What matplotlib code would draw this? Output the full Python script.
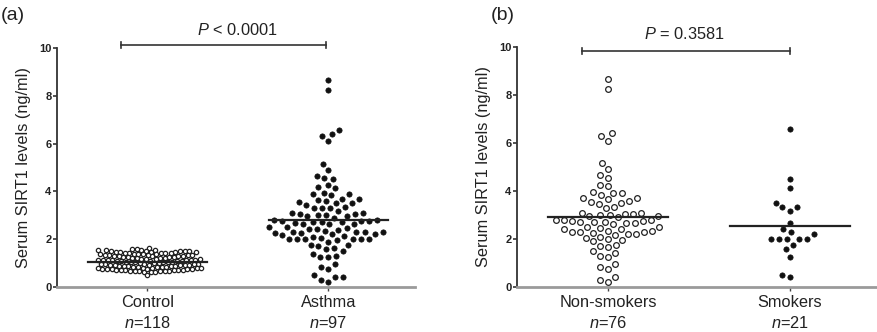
import numpy as np
import matplotlib
matplotlib.use("Agg")
import matplotlib.pyplot as plt

plt.rcParams['font.family'] = ['Liberation Sans', 'DejaVu Sans']
plt.rcParams['mathtext.fontset'] = 'custom'
plt.rcParams['mathtext.rm'] = 'Liberation Sans'
plt.rcParams['mathtext.it'] = 'Liberation Sans:italic'

# Values (ng/ml)
control = [1.65,
           1.40, 1.41, 1.43, 1.42, 1.44, 1.46, 1.45, 1.47, 1.48, 1.50, 1.49,
           1.51, 1.52, 1.53, 1.55, 1.54, 1.56, 1.57, 1.43, 1.47, 1.52, 1.58,
           1.21, 1.22, 1.24, 1.23, 1.26, 1.25, 1.28, 1.27, 1.30, 1.29, 1.32,
           1.31, 1.33, 1.35, 1.34, 1.36, 1.38, 1.37, 1.39, 1.22, 1.30, 1.35,
           1.01, 1.02, 1.04, 1.03, 1.05, 1.07, 1.06, 1.08, 1.10, 1.09, 1.11,
           1.12, 1.14, 1.13, 1.15, 1.17, 1.16, 1.18, 1.19, 1.03, 1.08, 1.12,
           1.05, 1.15,
           0.81, 0.80, 0.83, 0.82, 0.85, 0.84, 0.86, 0.88, 0.87, 0.89, 0.91,
           0.90, 0.92, 0.94, 0.93, 0.95, 0.97, 0.96, 0.98, 0.99, 0.85, 0.90,
           0.95, 0.88,
           0.61, 0.63, 0.65, 0.64, 0.67, 0.66, 0.69, 0.70, 0.72, 0.71, 0.73,
           0.75, 0.74, 0.76, 0.78, 0.77, 0.79, 0.70, 0.74, 0.67, 0.72, 0.78,
           0.68, 0.76,
           0.50]

non_smokers = [8.65, 8.25, 6.4, 6.3, 6.1, 5.15, 4.9, 4.65, 4.55, 4.25, 4.2,
               3.95, 3.9, 3.9, 3.85, 3.7, 3.7, 3.65, 3.6, 3.55, 3.5, 3.45,
               3.35, 3.3,
               3.1, 3.1, 3.05, 3.05, 3.0, 3.0, 2.95, 2.95, 2.9,
               2.8, 2.8, 2.78, 2.75, 2.75, 2.72, 2.7, 2.7, 2.68, 2.65, 2.62,
               2.5, 2.5, 2.45, 2.42, 2.4,
               2.35, 2.32, 2.3, 2.3, 2.28, 2.25, 2.22, 2.2, 2.15,
               2.1, 2.05, 2.0, 1.95, 1.9,
               1.75, 1.7, 1.65, 1.5, 1.4, 1.3, 1.25,
               0.95, 0.85, 0.75, 0.4, 0.3, 0.2]

smokers = [6.58, 4.5, 4.14, 3.51, 3.32, 3.32, 3.17, 2.65, 2.42, 2.3, 2.19,
           1.99, 1.99, 1.99, 2.0, 2.0, 1.75, 1.57, 1.26, 0.51, 0.43]

# asthma group = non-smokers + smokers (n = 97)
asthma = non_smokers + smokers

group_means = {'Control': 1.05, 'Asthma': 2.82,
               'Non-smokers': 2.9, 'Smokers': 2.54}


def swarm_offsets(ax, values, d_px):
    """simple beeswarm: x offsets (data units) so markers do not collide"""
    p0 = ax.transData.transform((0, 0))
    p1 = ax.transData.transform((1, 1))
    sx, sy = p1[0] - p0[0], p1[1] - p0[1]
    vals = np.asarray(values, dtype=float)
    offsets = np.zeros(len(vals))
    placed = []
    for i in np.argsort(vals, kind='stable'):
        y = vals[i] * sy
        near = [(px, py) for px, py in placed if abs(py - y) < d_px]
        cands = [0.0]
        for px, py in near:
            w = np.sqrt(d_px ** 2 - (py - y) ** 2)
            cands += [px - w, px + w]
        cands.sort(key=abs)
        for c in cands:
            if all((c - px) ** 2 + (y - py) ** 2 >= d_px ** 2 - 1e-6 for px, py in near):
                break
        placed.append((c, y))
        offsets[i] = c / sx
    return offsets


def setup_axes(ax, labels, counts):
    ax.set_xlim(-0.5, 1.48)
    ax.set_ylim(0, 10)
    for s in ['top', 'right']:
        ax.spines[s].set_visible(False)
    ax.spines['left'].set_color('#333333')
    ax.spines['left'].set_linewidth(1.3)
    ax.spines['bottom'].set_color('#9a9a9a')
    ax.spines['bottom'].set_linewidth(2)
    ax.set_yticks([0, 2, 4, 6, 8, 10])
    ax.tick_params(axis='y', length=3, width=1.2, color='#333333', pad=1,
                   labelsize=8)
    for t in ax.get_yticklabels():
        t.set_fontweight('bold')
        t.set_color('#222222')
    ax.set_xticks([0, 1])
    ax.set_xticklabels(['{}\n$\\it{{n}}$={}'.format(l, c) for l, c in zip(labels, counts)],
                       fontsize=11.8, linespacing=1.35, color='#222222')
    ax.tick_params(axis='x', length=3, width=1, color='#444444', pad=3)
    ax.set_ylabel('Serum SIRT1 levels (ng/ml)', fontsize=11.8, color='#222222',
                  labelpad=6)


def draw_group(ax, xpos, values, d_px, ms, filled, mean):
    xs = xpos + swarm_offsets(ax, values, d_px)
    if filled:
        ax.plot(xs, values, 'o', ms=ms, mfc='#111111', mec='#111111', mew=0.5,
                clip_on=False, zorder=3)
    else:
        ax.plot(xs, values, 'o', ms=ms, mfc='white', mec='#222222', mew=0.9,
                clip_on=False, zorder=3)
    ax.plot([xpos - 0.33, xpos + 0.33], [mean, mean], color='#222222', lw=1.6,
            zorder=4)


def bracket(ax, x0, x1, y, text, tx, ty):
    ax.plot([x0, x1], [y, y], color='#333333', lw=1.2, clip_on=False)
    for x in [x0, x1]:
        ax.plot([x, x], [y - 0.12, y + 0.12], color='#333333', lw=1.2, clip_on=False)
    ax.text(tx, ty, text, ha='center', va='center', fontsize=11.8, color='#222222')


fig = plt.figure(figsize=(8.78, 3.32), dpi=100)
ax1 = fig.add_axes([57 / 878, 45 / 332, 358 / 878, 239 / 332])
ax2 = fig.add_axes([517 / 878, 45 / 332, 360 / 878, 240 / 332])

setup_axes(ax1, ['Control', 'Asthma'], [len(control), len(asthma)])
setup_axes(ax2, ['Non-smokers', 'Smokers'], [len(non_smokers), len(smokers)])

draw_group(ax1, 0, control, 4.6, 3.1, False, group_means['Control'])
draw_group(ax1, 1, asthma, 8.0, 3.8, True, group_means['Asthma'])
draw_group(ax2, 0, non_smokers, 8.2, 4.1, False, group_means['Non-smokers'])
draw_group(ax2, 1, smokers, 8.2, 3.8, True, group_means['Smokers'])

bracket(ax1, -0.144, 0.99, 10.12, '$\\it{P}$ < 0.0001', 0.5, 10.75)
bracket(ax2, -0.14, 1.0, 9.83, '$\\it{P}$ = 0.3581', 0.42, 10.54)

fig.text(1 / 878, 1 - 15 / 332, '(a)', fontsize=14, va='center', ha='left', color='#222222')
fig.text(491 / 878, 1 - 15 / 332, '(b)', fontsize=14, va='center', ha='left', color='#222222')

fig.savefig('out.png', dpi=100)
